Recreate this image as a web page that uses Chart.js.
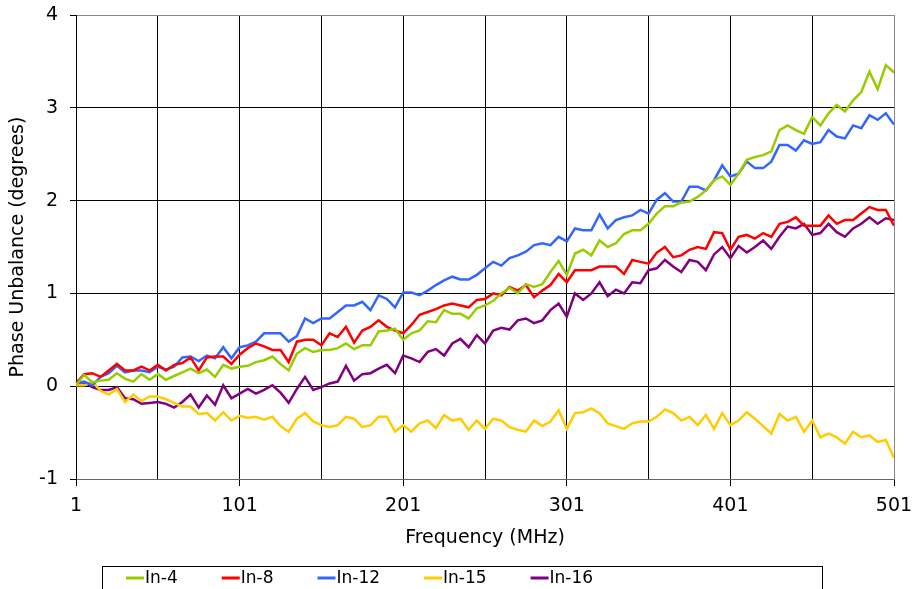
<!DOCTYPE html>
<html>
<head>
<meta charset="utf-8">
<script src="https://cdn.jsdelivr.net/npm/chart.js@4.4.1/dist/chart.umd.min.js"></script>
<style>
	html, body { margin: 0; padding: 0; background: #fff; }
	#wrap { width: 916px; height: 589px; }
</style>
</head>
<body>
<div id="wrap"><canvas id="phase-chart"></canvas></div>
<script>
// frequency points (MHz)
const freq = [1,6,11,16,21,26,31,36,41,46,51,56,61,66,71,76,81,86,91,96,101,106,111,116,121,126,131,136,141,146,151,156,161,166,171,176,181,186,191,196,201,206,211,216,221,226,231,236,241,246,251,256,261,266,271,276,281,286,291,296,301,306,311,316,321,326,331,336,341,346,351,356,361,366,371,376,381,386,391,396,401,406,411,416,421,426,431,436,441,446,451,456,461,466,471,476,481,486,491,496,501];

const in4 = [0.01,0.12,0.04,0.06,0.07,0.14,0.08,0.05,0.13,0.07,0.13,0.07,0.11,0.15,0.19,0.14,0.18,
	0.10,0.23,0.19,0.21,0.22,0.26,0.28,0.32,0.24,0.17,0.35,0.41,0.37,0.39,0.39,0.41,0.46,
	0.40,0.44,0.44,0.59,0.60,0.62,0.50,0.57,0.60,0.70,0.69,0.82,0.78,0.78,0.73,0.84,0.87,
	0.92,1.00,1.06,1.00,1.10,1.07,1.10,1.23,1.35,1.20,1.43,1.47,1.41,1.57,1.50,1.54,
	1.64,1.68,1.68,1.75,1.86,1.94,1.94,1.98,1.99,2.04,2.11,2.22,2.26,2.17,2.29,2.44,
	2.47,2.49,2.53,2.76,2.81,2.76,2.72,2.90,2.81,2.94,3.03,2.96,3.08,3.17,3.39,3.20,3.46,3.38];

const in8 = [0.03,0.13,0.14,0.10,0.17,0.24,0.17,0.17,0.21,0.17,0.23,0.17,0.23,0.25,0.31,0.17,0.31,
	0.32,0.32,0.24,0.34,0.41,0.46,0.43,0.39,0.39,0.26,0.48,0.50,0.50,0.44,0.57,0.53,0.64,
	0.47,0.60,0.64,0.71,0.64,0.60,0.57,0.66,0.77,0.80,0.83,0.87,0.89,0.87,0.85,0.93,0.94,
	1.00,0.98,1.07,1.03,1.09,0.96,1.03,1.09,1.21,1.12,1.25,1.25,1.25,1.29,1.29,1.29,
	1.21,1.36,1.34,1.32,1.44,1.50,1.39,1.41,1.47,1.50,1.48,1.66,1.65,1.47,1.61,1.63,
	1.59,1.65,1.61,1.75,1.77,1.82,1.73,1.73,1.73,1.84,1.75,1.79,1.79,1.86,1.93,1.90,1.90,1.73];

const in12 = [0.03,0.05,0.01,0.10,0.14,0.22,0.15,0.17,0.17,0.15,0.21,0.18,0.21,0.31,0.32,0.27,0.33,
	0.30,0.42,0.30,0.42,0.44,0.48,0.57,0.57,0.57,0.48,0.54,0.73,0.68,0.73,0.73,0.80,0.87,
	0.87,0.91,0.82,0.98,0.94,0.85,1.01,1.01,0.98,1.03,1.09,1.14,1.18,1.15,1.15,1.20,1.27,
	1.34,1.30,1.38,1.41,1.45,1.52,1.54,1.52,1.61,1.56,1.70,1.68,1.68,1.85,1.70,1.79,
	1.82,1.84,1.90,1.86,2.01,2.08,1.99,1.99,2.15,2.15,2.11,2.22,2.38,2.26,2.29,2.42,
	2.35,2.35,2.42,2.60,2.60,2.54,2.65,2.61,2.63,2.76,2.69,2.67,2.81,2.78,2.92,2.87,2.94,2.82];

const in15 = [0.01,0.01,0.05,-0.05,-0.09,-0.03,-0.17,-0.09,-0.16,-0.11,-0.11,-0.14,-0.18,-0.22,-0.22,-0.30,-0.29,
	-0.37,-0.28,-0.37,-0.32,-0.34,-0.33,-0.36,-0.33,-0.43,-0.49,-0.35,-0.29,-0.38,-0.42,-0.44,-0.42,-0.33,
	-0.35,-0.44,-0.42,-0.33,-0.33,-0.49,-0.42,-0.49,-0.40,-0.37,-0.45,-0.31,-0.37,-0.35,-0.47,-0.37,-0.46,
	-0.35,-0.37,-0.44,-0.47,-0.49,-0.37,-0.43,-0.38,-0.26,-0.46,-0.29,-0.28,-0.24,-0.29,-0.40,-0.43,
	-0.46,-0.40,-0.38,-0.38,-0.33,-0.25,-0.29,-0.37,-0.33,-0.42,-0.31,-0.46,-0.29,-0.42,-0.37,-0.28,
	-0.35,-0.43,-0.51,-0.30,-0.37,-0.33,-0.49,-0.37,-0.55,-0.51,-0.55,-0.62,-0.49,-0.55,-0.53,-0.60,-0.58,-0.77];

const in16 = [0.04,0.04,-0.01,-0.04,-0.04,-0.01,-0.13,-0.14,-0.19,-0.18,-0.17,-0.19,-0.23,-0.17,-0.09,-0.23,-0.10,
	-0.20,0.01,-0.13,-0.08,-0.03,-0.08,-0.04,0.01,-0.07,-0.18,-0.03,0.10,-0.04,-0.01,0.03,0.05,0.22,
	0.06,0.13,0.14,0.19,0.23,0.14,0.33,0.30,0.26,0.37,0.40,0.33,0.46,0.51,0.42,0.55,0.46,
	0.60,0.63,0.61,0.71,0.73,0.68,0.71,0.82,0.89,0.75,1.00,0.93,1.00,1.12,0.97,1.04,
	1.00,1.12,1.11,1.25,1.27,1.36,1.29,1.23,1.36,1.34,1.25,1.42,1.50,1.38,1.51,1.44,
	1.50,1.57,1.48,1.61,1.72,1.70,1.75,1.63,1.65,1.75,1.66,1.61,1.70,1.75,1.82,1.75,1.81,1.79];

// gridline positions on x, labels only every 100
const xGrid = [1,51,101,151,201,251,301,351,401,451,501];
const xLabels = [1,101,201,301,401,501];

const seriesNames = ["In-4", "In-8", "In-12", "In-15", "In-16"];
const seriesColors = ["#99cc00", "#ff0000", "#3366ff", "#ffcc00", "#800080"];
const seriesData = [in4, in8, in12, in15, in16];

const FONT = "'DejaVu Sans', Verdana, sans-serif";

// boxed legend under the chart, like the spreadsheet one
const boxLegend = {
	id: "boxLegend",
	afterDraw(chart) {
		const ctx = chart.ctx;
		ctx.save();
		ctx.strokeStyle = "#000";
		ctx.lineWidth = 1;
		ctx.strokeRect(102.5, 566.5, 720, 40);
		ctx.font = "17px " + FONT;
		ctx.textBaseline = "middle";
		ctx.fillStyle = "#000";
		let x = 126;
		const y = 578;
		chart.data.datasets.forEach((ds) => {
			ctx.strokeStyle = ds.borderColor;
			ctx.lineWidth = 3;
			ctx.beginPath();
			ctx.moveTo(x, y);
			ctx.lineTo(x + 18, y);
			ctx.stroke();
			ctx.fillText(ds.label, x + 19, y + 1);
			x += 19 + ctx.measureText(ds.label).width + 44;
		});
		ctx.restore();
	}
};

new Chart(document.getElementById("phase-chart"), {
	type: "line",
	data: {
		labels: freq,
		datasets: seriesNames.map((name, i) => ({
			label: name,
			data: seriesData[i],
			borderColor: seriesColors[i],
			backgroundColor: seriesColors[i],
			borderWidth: 2.5,
			pointRadius: 0,
			tension: 0,
			fill: false,
		})),
	},
	options: {
		responsive: true,
		maintainAspectRatio: false,
		devicePixelRatio: 1,
		animation: false,
		layout: { padding: { top: 15, right: 22, bottom: 34, left: 0 } },
		plugins: {
			legend: { display: false },
			tooltip: { enabled: false },
		},
		scales: {
			x: {
				type: "linear",
				min: 1,
				max: 501,
				afterBuildTicks: (s) => { s.ticks = xGrid.map((v) => ({ value: v })); },
				afterFit: (s) => {
					s.height = 76;
					s.paddingLeft = 0;
					s.paddingRight = 0;
				},
				ticks: {
					autoSkip: false,
					maxRotation: 0,
					padding: 9,
					color: "#000",
					font: { family: FONT, size: 19 },
					callback: (v) => (xLabels.includes(v) ? String(v) : ""),
				},
				grid: {
					color: (c) => (c.tick && c.tick.value === 501 ? "#888" : "#000"),
					lineWidth: 1,
					tickLength: 7,
					tickColor: (c) => (c.tick && xLabels.includes(c.tick.value) ? "#000" : "rgba(0,0,0,0)"),
				},
				border: { color: "#666", width: 1 },
				title: {
					display: true,
					text: "Frequency (MHz)",
					color: "#000",
					font: { family: FONT, size: 19 },
					padding: { top: 0, bottom: 6 },
				},
			},
			y: {
				min: -1,
				max: 4,
				afterFit: (s) => {
					s.width = 76;
					s.paddingTop = 0;
					s.paddingBottom = 0;
				},
				ticks: {
					stepSize: 1,
					padding: 12,
					color: "#000",
					font: { family: FONT, size: 19 },
				},
				grid: {
					color: (c) => (c.tick && c.tick.value === 4 ? "#888" : "#000"),
					lineWidth: 1,
					tickLength: 6,
					tickColor: "#000",
				},
				border: { color: "#000", width: 1 },
				title: {
					display: true,
					text: "Phase Unbalance (degrees)",
					color: "#000",
					font: { family: FONT, size: 19 },
					padding: { top: 7, bottom: 0 },
				},
			},
		},
	},
	plugins: [boxLegend],
});
</script>
</body>
</html>
